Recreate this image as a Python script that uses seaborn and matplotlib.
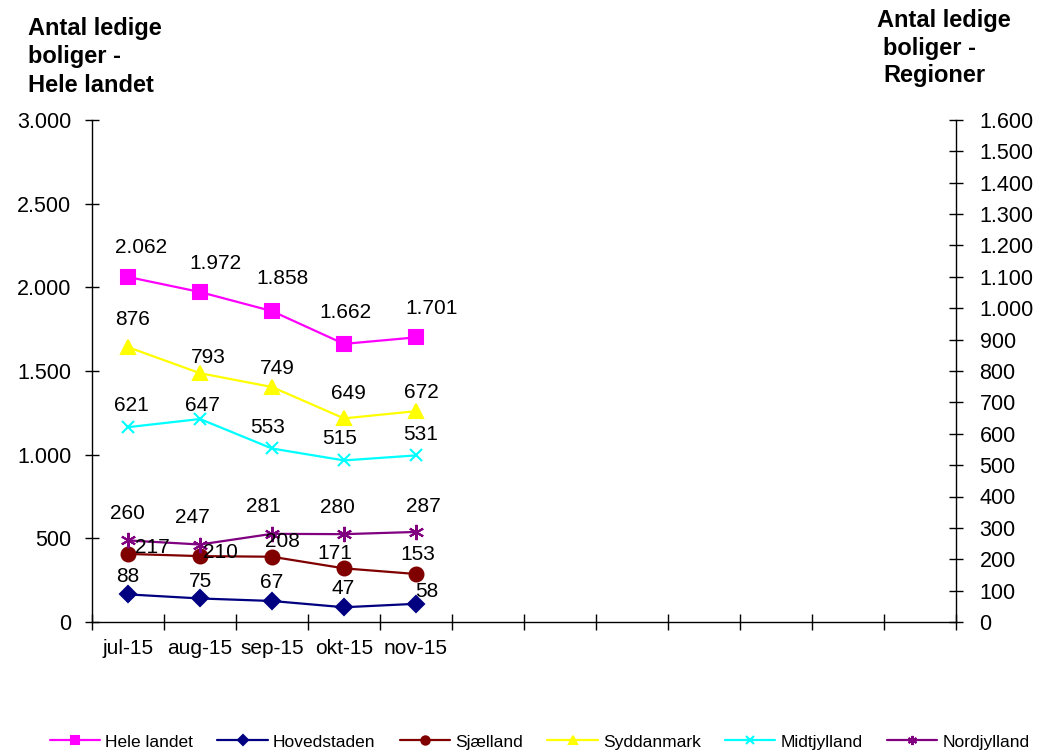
import numpy as np
import pandas as pd
import seaborn as sns
import matplotlib.pyplot as plt
from matplotlib.ticker import FuncFormatter

# DATA
months = ["jul-15", "aug-15", "sep-15", "okt-15", "nov-15"]
hele_landet = [2062, 1972, 1858, 1662, 1701]
hovedstaden = [88, 75, 67, 47, 58]
sjaelland = [217, 210, 208, 171, 153]
syddanmark = [876, 793, 749, 649, 672]
midtjylland = [621, 647, 553, 515, 531]
nordjylland = [260, 247, 281, 280, 287]

n_slots = 12

sns.set_theme(style="white")
plt.rcParams["font.family"] = ["Liberation Sans", "DejaVu Sans"]
plt.rcParams["text.color"] = "black"
plt.rcParams["xtick.color"] = "black"
plt.rcParams["ytick.color"] = "black"

def dk(v, pos=None):
    return f"{v:,.0f}".replace(",", ".")

fig = plt.figure(figsize=(10.38, 7.51), dpi=100)
ax = fig.add_axes([92 / 1038, 1 - 622 / 751, (956 - 92) / 1038, 502 / 751])
ax2 = ax.twinx()

# style per series: (name, values, axis, color, marker, size, label offsets in px)
series = [
    ("Hele landet", hele_landet, ax, "#FF00FF", "s", 10,
     [(13, 29), (15, 29), (10, 33), (1, 31), (16, 29)]),
    ("Hovedstaden", hovedstaden, ax2, "#000080", "D", 8,
     [(0, 18), (0, 17), (0, 18), (-1, 19), (11, 12)]),
    ("Sjælland", sjaelland, ax2, "#800000", "o", 10,
     [(24, 6), (20, 4), (10, 15), (-9, 15), (2, 19)]),
    ("Syddanmark", syddanmark, ax2, "#FFFF00", "^", 10,
     [(5, 28), (8, 16), (5, 19), (4, 25), (5, 19)]),
    ("Midtjylland", midtjylland, ax2, "#00FFFF", "x", 9,
     [(3, 22), (2, 14), (-4, 21), (-4, 22), (5, 21)]),
    ("Nordjylland", nordjylland, ax2, "#800080", (6, 2, 0), 11,
     [(-1, 27), (-8, 27), (-9, 27), (-7, 27), (7, 25)]),
]

handles = []
for name, vals, a, color, marker, ms, offs in series:
    df = pd.DataFrame({"month": months, "value": vals})
    sns.lineplot(data=df, x="month", y="value", ax=a, color=color, marker=marker,
                 markersize=ms, markeredgecolor=color, markerfacecolor=color,
                 markeredgewidth=1.5, linewidth=1.6, label=name, legend=False, sort=False)
    handles.append(a.get_lines()[-1])
    for i, v in enumerate(vals):
        a.annotate(dk(v), xy=(i, v), xytext=(offs[i][0] * 0.72, offs[i][1] * 0.72),
                   textcoords="offset points", ha="center", va="center",
                   fontsize=15, color="black")

# axes
ax.set_ylim(0, 3000)
ax.set_yticks(np.arange(0, 3001, 500))
ax2.set_ylim(0, 1600)
ax2.set_yticks(np.arange(0, 1601, 100))
ax.yaxis.set_major_formatter(FuncFormatter(dk))
ax2.yaxis.set_major_formatter(FuncFormatter(dk))

ax.set_xlim(-0.5, n_slots - 0.5)
ax.set_xticks(range(len(months)))
ax.set_xticklabels(months)
ax.set_xticks(np.arange(-0.5, n_slots, 1), minor=True)
ax.tick_params(axis="x", which="major", bottom=True, length=0, pad=12, labelsize=15)
ax.tick_params(axis="x", which="minor", bottom=True, direction="inout", length=11,
               width=1, color="black")
ax.tick_params(axis="y", direction="inout", length=10, width=1, color="black", pad=10,
               labelsize=15.5, left=True)
ax2.tick_params(axis="y", direction="inout", length=10, width=1, color="black", pad=12,
                labelsize=15.5, right=True)

for a in (ax, ax2):
    a.set_xlabel("")
    a.set_ylabel("")
    for s in a.spines.values():
        s.set_visible(False)
    a.grid(False)
ax.spines["left"].set_visible(True)
ax.spines["bottom"].set_visible(True)
ax2.spines["right"].set_visible(True)
for s in (ax.spines["left"], ax.spines["bottom"], ax2.spines["right"]):
    s.set_color("black")
    s.set_linewidth(1)

# titles
W, H = 1038, 751
for txt, x, y in [("Antal ledige", 28, 35), ("boliger -", 28, 63), ("Hele landet", 28, 92),
                  ("Antal ledige", 877, 27), ("boliger -", 883, 55), ("Regioner", 883, 82)]:
    fig.text(x / W, 1 - y / H, txt, fontsize=17, fontweight="bold", ha="left", va="baseline")

fig.legend(handles=handles, labels=[s[0] for s in series], loc="center",
           bbox_to_anchor=(0.52, 1 - 742 / H), ncol=6, frameon=False, fontsize=12.5,
           handlelength=2.9, handletextpad=0.3, columnspacing=1.4, markerscale=0.6,
           borderaxespad=0, borderpad=0)

fig.savefig("out.png", dpi=100)
